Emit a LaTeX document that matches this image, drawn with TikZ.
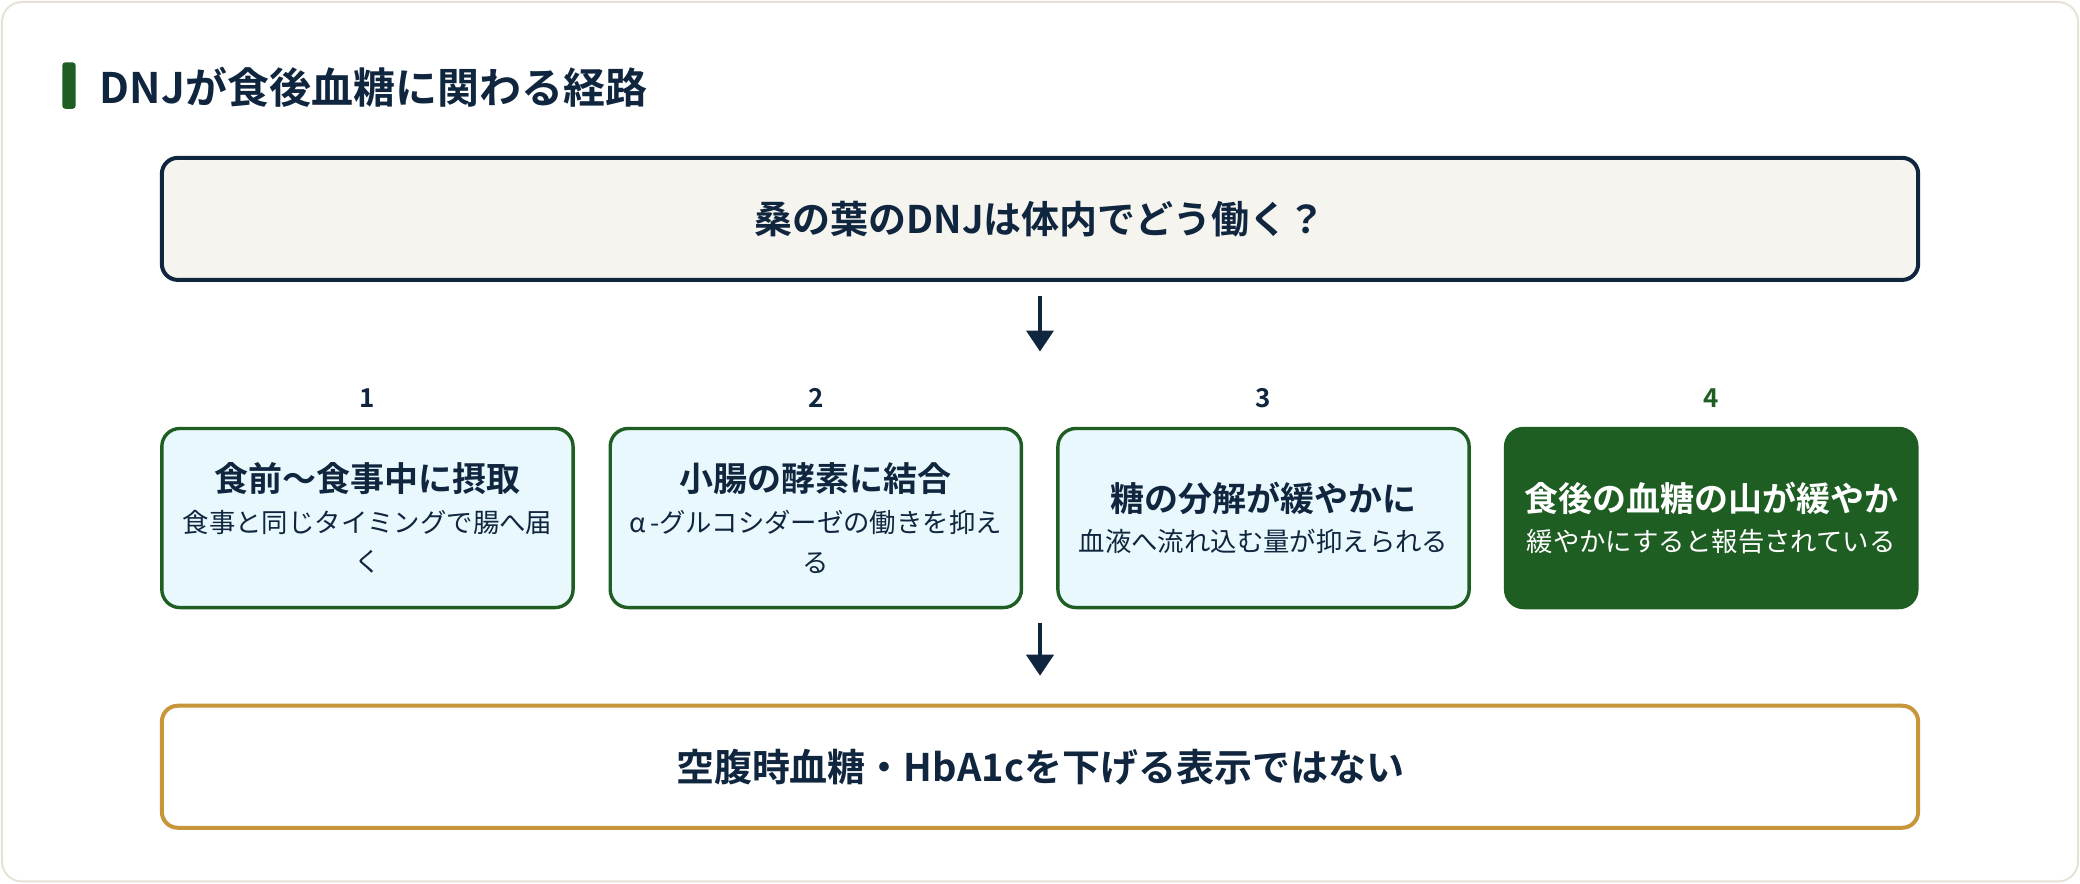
\documentclass[tikz,border=0pt]{standalone}
\usepackage{fontspec}
\setmainfont{Noto Sans CJK JP}[BoldFont={Noto Sans CJK JP Bold}]
\usetikzlibrary{positioning}
\usetikzlibrary{arrows.meta}

\definecolor{navy}{HTML}{10263F}
\definecolor{leafgreen}{HTML}{1F5E22}
\definecolor{paleblue}{HTML}{E9F8FD}
\definecolor{cream}{HTML}{F5F4EF}
\definecolor{gold}{HTML}{C8963A}
\definecolor{frameline}{HTML}{E6E3D6}

\begin{document}
\begin{tikzpicture}[x=0.6633pt, y=-0.6633pt,
    bigbox/.style={draw=navy, line width=2pt, rounded corners=8pt, minimum width={1324*0.6633pt}, minimum height={92*0.6633pt}, text=navy, font=\bfseries\fontsize{19}{24}\selectfont},
    stepbox/.style={draw=leafgreen, fill=paleblue, line width=1.7pt, rounded corners=9pt, minimum width={310*0.6633pt}, minimum height={135*0.6633pt}, align=center, text=navy, font=\fontsize{13.2}{19.8}\selectfont},
    stepnum/.style={text=navy, font=\bfseries\fontsize{13}{16}\selectfont},
    flow/.style={navy, line width=2pt, -{Triangle[width=13.5pt, length=10.5pt]}}
]
    \useasboundingbox (0,0) rectangle (1568,666);
    \draw[frameline, fill=white, line width=1pt, rounded corners=10pt] (1.5,1.5) rectangle (1566.5,664.5);

    % heading
    \fill[leafgreen, rounded corners=1.5pt] (47,47) rectangle (57,82);
    \node[anchor=west, text=navy, font=\bfseries\fontsize{21}{26}\selectfont, inner sep=0pt] (heading) at (75,66) {DNJが食後血糖に関わる経路};

    % question
    \node[bigbox, fill=cream] (question) at (784,165) {桑の葉のDNJは体内でどう働く？};
    \coordinate (arrowend) at (784,265);
    \draw[flow, shorten <=7pt] (question.south) -- (arrowend);

    % steps
    \node[stepnum] (num1) at (277,300) {1};
    \node[stepnum] (num2) at (615,300) {2};
    \node[stepnum] (num3) at (952.5,300) {3};
    \node[stepnum, text=leafgreen] (num4) at (1290,300) {4};

    \node[stepbox] (step1) at (277,390.5) {{\bfseries\fontsize{17}{22}\selectfont 食前〜食事中に摂取}\\[0.5pt]食事と同じタイミングで腸へ届\\く};
    \node[stepbox] (step2) at (615,390.5) {{\bfseries\fontsize{17}{22}\selectfont 小腸の酵素に結合}\\[0.5pt]α\kern2pt-グルコシダーゼの働きを抑え\\る};
    \node[stepbox] (step3) at (952.5,390.5) {{\bfseries\fontsize{17}{22}\selectfont 糖の分解が緩やかに}\\[0.5pt]血液へ流れ込む量が抑えられる};
    \node[stepbox, fill=leafgreen, text=white] (step4) at (1290,390.5) {{\bfseries\fontsize{17}{22}\selectfont 食後の血糖の山が緩やか}\\[0.5pt]緩やかにすると報告されている};

    % conclusion
    \node[bigbox, draw=gold, fill=white] (notice) at (784,578) {空腹時血糖・HbA1cを下げる表示ではない};
    \draw[flow, shorten <=7pt, shorten >=14pt] (question.south |- step1.south) -- (notice.north);
\end{tikzpicture}
\end{document}
